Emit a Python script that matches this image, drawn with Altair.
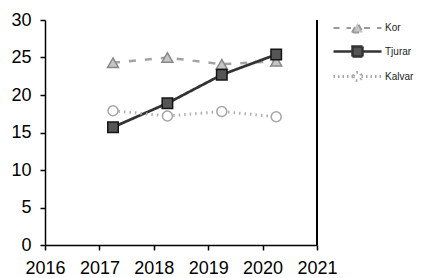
import altair as alt
import pandas as pd

years = [2017.25, 2018.25, 2019.25, 2020.25]
series = ["Kor", "Tjurar", "Kalvar"]
kor = [24.3, 25.0, 24.1, 24.5]
tjurar = [15.7, 18.9, 22.7, 25.4]
kalvar = [17.9, 17.2, 17.8, 17.1]
x_ticks = [2016, 2017, 2018, 2019, 2020, 2021]
y_ticks = [0, 5, 10, 15, 20, 25, 30]

rows = []
for name, vals in zip(series, [kor, tjurar, kalvar]):
    for yr, v in zip(years, vals):
        rows.append({"year": yr, "value": v, "series": name, "key": name})
df = pd.DataFrame(rows)

line_colors = ["#a3a3a3", "#333333", "#b0b0b0"]
dashes = [[7, 9], [1, 0], [1.5, 4]]
widths = [2.5, 3, 1.6]
shapes = ["triangle-up", "square", "circle"]
fills = ["#c6c6c6", "#555555", "#ffffff"]
strokes = ["#888888", "#151515", "#a5a5a5"]
sizes = [120, 100, 55]

# legend symbols: line + marker + line
leg_paths = [
    "M-2.4,0H-0.65M0.65,0H2.4M-0.55,0.45L0,-0.5L0.55,0.45Z",
    "M-2.4,0H-0.5M0.5,0H2.4M-0.5,-0.5H0.5V0.5H-0.5Z",
    "M-2.4,0H-0.4M0.4,0H2.4M-0.4,0A0.4,0.4 0 1,0 0.4,0A0.4,0.4 0 1,0 -0.4,0Z",
]
leg_strokes = ["#9a9a9a", "#333333", "#a8a8a8"]
leg_dashes = [[6, 7], [1, 0], [1.5, 3]]
leg_widths = [2, 3, 1.5]

xs = alt.Scale(domain=[2016, 2021], nice=False, zero=False)
ys = alt.Scale(domain=[0, 30], nice=False)
x_axis = alt.Axis(values=x_ticks, format="d", title=None, labelPadding=9, labelOverlap=False)
y_axis = alt.Axis(values=y_ticks, title=None, labelPadding=9, labelOverlap=False)

x_enc = alt.X("year:Q", scale=xs, axis=x_axis)
y_enc = alt.Y("value:Q", scale=ys, axis=y_axis)

lines = alt.Chart(df).mark_line().encode(
    x=x_enc, y=y_enc,
    color=alt.Color("series:N", scale=alt.Scale(domain=series, range=line_colors), legend=None),
    strokeDash=alt.StrokeDash("series:N", scale=alt.Scale(domain=series, range=dashes), legend=None),
    strokeWidth=alt.StrokeWidth("series:N", scale=alt.Scale(domain=series, range=widths), legend=None),
)

points = alt.Chart(df).mark_point(filled=False, strokeWidth=1.5, opacity=1).encode(
    x=x_enc, y=y_enc,
    shape=alt.Shape("series:N", scale=alt.Scale(domain=series, range=shapes), legend=None),
    fill=alt.Fill("series:N", scale=alt.Scale(domain=series, range=fills), legend=None),
    stroke=alt.Stroke("series:N", scale=alt.Scale(domain=series, range=strokes), legend=None),
    size=alt.Size("series:N", scale=alt.Scale(domain=series, range=sizes), legend=None),
)

legend = alt.Legend(
    title=None, orient="none", legendX=301, legendY=-3,
    symbolSize=400, labelOffset=16, rowPadding=3, padding=0,
    symbolOpacity=1,
    labelFont="Liberation Sans", labelFontSize=10, labelColor="#222222",
)

legend_layer = alt.Chart(df).mark_point(opacity=0).encode(
    x=x_enc, y=y_enc,
    shape=alt.Shape("key:N", scale=alt.Scale(domain=series, range=leg_paths), legend=legend),
    fill=alt.Fill("key:N", scale=alt.Scale(domain=series, range=fills), legend=legend),
    stroke=alt.Stroke("key:N", scale=alt.Scale(domain=series, range=leg_strokes), legend=legend),
    strokeDash=alt.StrokeDash("key:N", scale=alt.Scale(domain=series, range=leg_dashes), legend=legend),
    strokeWidth=alt.StrokeWidth("key:N", scale=alt.Scale(domain=series, range=leg_widths), legend=legend),
)

border = alt.Chart(df).mark_rule(color="black", strokeWidth=1.5).encode(
    x=alt.X(datum=2021, scale=xs, axis=x_axis),
    y=alt.Y(datum=0, scale=ys, axis=y_axis),
    y2=alt.datum(30),
)

chart = alt.layer(lines, points, legend_layer, border).resolve_scale(
    shape="independent", fill="independent", stroke="independent",
    strokeDash="independent", strokeWidth="independent",
).properties(
    width=272, height=225,
    autosize=alt.AutoSizeParams(type="none"),
    padding={"left": 37, "top": 12, "right": 98, "bottom": 33},
).configure_view(stroke=None).configure_axis(
    grid=False, domainColor="black", domainWidth=1.5, tickColor="black",
    tickSize=5, tickWidth=1.5, labelFont="Liberation Sans", labelFontSize=18,
    labelColor="black", labelOverlap=False, labelFlush=False,
)

chart.save("out.html", embed_options={"renderer": "svg", "actions": False})
